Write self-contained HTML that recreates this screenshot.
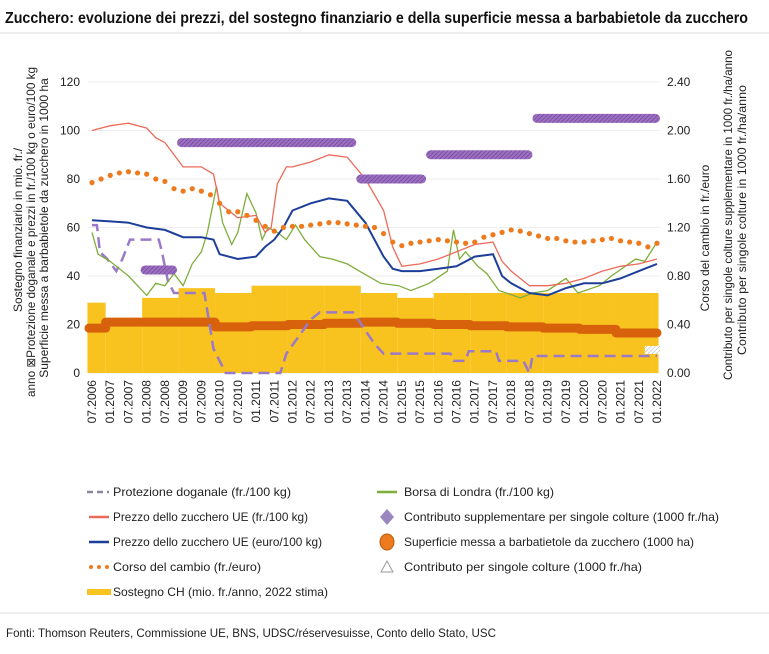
<!DOCTYPE html>
<html><head><meta charset="utf-8">
<style>
html,body{margin:0;padding:0;background:#fff;}
svg{display:block;font-family:"Liberation Sans Narrow","Liberation Sans",sans-serif;}
</style></head>
<body>
<svg id="chart" width="769" height="654" viewBox="0 0 769 654" xmlns="http://www.w3.org/2000/svg">
<defs>
<pattern id="hatchP" width="3" height="3" patternUnits="userSpaceOnUse" patternTransform="rotate(45)">
<rect width="3" height="3" fill="#9b6fc0"/><line x1="0" y1="0" x2="0" y2="3" stroke="#6d3f96" stroke-width="1.2"/>
</pattern>
<pattern id="hatchW" width="3" height="3" patternUnits="userSpaceOnUse" patternTransform="rotate(45)">
<rect width="3" height="3" fill="#fff"/><line x1="0" y1="0" x2="0" y2="3" stroke="#aaa" stroke-width="1"/>
</pattern>
</defs>
<rect x="0" y="0" width="769" height="654" fill="#fff"/>
<text x="5" y="23" font-size="16" font-weight="bold" fill="#111" textLength="743" lengthAdjust="spacingAndGlyphs">Zucchero: evoluzione dei prezzi, del sostegno finanziario e della superficie messa a barbabietole da zucchero</text>
<line x1="0" y1="33" x2="769" y2="33" stroke="#ddd" stroke-width="1"/>
<g id="grid"></g>
<g id="marks"></g>
<g id="axes"></g>
<g font-size="12" fill="#222">
<text transform="translate(22,230) rotate(-90)" text-anchor="middle">Sostegno finanziario in mio. fr./</text>
<text transform="translate(35,232) rotate(-90)" text-anchor="middle" textLength="330" lengthAdjust="spacingAndGlyphs">anno  ⊠Protezione doganale e prezzi in fr./100 kg o euro/100 kg</text>
<text transform="translate(48,228) rotate(-90)" text-anchor="middle">Superficie messa a barbabietole da zucchero in 1000 ha</text>
</g>
<g font-size="12" fill="#222">
<text transform="translate(709,238) rotate(-90)" text-anchor="middle">Corso del cambio in fr./euro</text>
<text transform="translate(732,215) rotate(-90)" text-anchor="middle" textLength="330" lengthAdjust="spacingAndGlyphs">Contributo per singole colture supplementare in 1000 fr./ha/anno</text>
<text transform="translate(746,220) rotate(-90)" text-anchor="middle" textLength="270" lengthAdjust="spacingAndGlyphs">Contributo per singole colture in 1000 fr./ha/anno</text>
</g>
<g id="legend" font-size="12" fill="#222"></g>
<line x1="0" y1="613" x2="769" y2="613" stroke="#ddd" stroke-width="1"/>
<text x="6" y="637" font-size="12" fill="#222" textLength="490" lengthAdjust="spacingAndGlyphs">Fonti: Thomson Reuters,  Commissione UE, BNS, UDSC/réservesuisse, Conto dello Stato, USC</text>
</svg>
<script>
// ---- data ----
const xLabels = ["07.2006","01.2007","07.2007","01.2008","07.2008","01.2009","07.2009","01.2010","07.2010","01.2011","07.2011","01.2012","07.2012","01.2013","07.2013","01.2014","07.2014","01.2015","07.2015","01.2016","07.2016","01.2017","07.2017","01.2018","07.2018","01.2019","07.2019","01.2020","07.2020","01.2021","07.2021","01.2022"];
const leftTicks = [0,20,40,60,80,100,120];
const rightTicks = ["0.00","0.40","0.80","1.20","1.60","2.00","2.40"];
// months since 07.2006
const redT = [0,6,12,18,21,24,30,36,40,42,48,54,57,59,61,64,66,72,78,84,90,96,99,102,108,114,120,126,132,135,138,144,150,156,162,168,174,180,186];
const redV = [100,102,103,101,97,95,85,85,82,70,64,65,58,60,78,85,85,87,90,89,80,67,52,44,45,47,50,53,54,46,42,36,36,37,39,42,44,45,47];
const blueT = [0,6,12,18,24,30,36,40,42,48,54,57,60,63,66,72,78,84,90,96,99,102,108,114,120,126,132,135,138,144,150,156,162,168,174,180,186];
const blueV = [63,62.5,62,60,59,56,56,55,49,47,48,52,55,60,67,70,72,71,62,48,43,42,42,43,44,48,49,40,37,33,32,35,37,37,39,42,45];
const greenT = [0,2,6,12,18,21,24,27,30,33,36,38,41,43,46,48,51,54,56,58,61,64,67,70,75,79,84,88,95,101,105,111,117,119,121,123,127,130,134,141,145,150,156,160,167,171,179,182,186];
const greenV = [58,49,46,40,32,37,36,41,36,45,50,58,77,62,53,58,74,66,55,60,58,55,61,55,48,47,45,42,37,36,34,37,42,59,47,50,44,41,34,31,33,34,39,33,36,40,47,46,54];
const fxT = [0,3,6,9,12,15,18,21,24,27,30,33,36,39,42,45,48,51,54,57,60,63,66,69,72,75,78,81,84,87,90,93,96,99,102,105,108,111,114,117,120,123,126,129,132,135,138,141,144,147,150,153,156,159,162,165,168,171,174,177,180,183,186];
const fxV = [1.57,1.60,1.63,1.65,1.66,1.65,1.64,1.60,1.58,1.52,1.50,1.52,1.50,1.47,1.40,1.33,1.33,1.30,1.26,1.21,1.17,1.20,1.21,1.21,1.22,1.23,1.24,1.24,1.23,1.22,1.21,1.20,1.15,1.08,1.05,1.07,1.08,1.09,1.10,1.09,1.08,1.07,1.08,1.12,1.14,1.16,1.18,1.17,1.15,1.13,1.11,1.11,1.09,1.08,1.08,1.09,1.10,1.11,1.09,1.08,1.07,1.04,1.07];
const protT = [0,1.6,2.6,5,8,10,12.5,22,23,25,27,37,40,44,62,64,68,72,75,86,93,96,118,119,123,124,133,134,142,144,145,186];
const protV = [61,61,50,47,42,47,55,55,50,38,33,33,10,0,0,8,15,22,25,25,12,8,8,5,5,9,9,5,5,0,7,7];
const years = [2006,2007,2008,2009,2010,2011,2012,2013,2014,2015,2016,2017,2018,2019,2020,2021,2022];
const supportV = [29,22,31,35,33,36,36,36,33,31,33,33,33,33,33,33,33];
const areaV = [18.5,21,21,21,19,19.5,20,20.5,21,20.5,20,19.5,19,18.5,18,16.5,16.5];
const suppStart = [16,28,87,110,145];
const suppEnd = [28,87,110,145,187];
const suppV = [0.85,1.90,1.60,1.80,2.10];
const singleStart = [182];
const singleEnd = [187];
const singleV = [0.19];

// ---- scales ----
const NS="http://www.w3.org/2000/svg";
const x = t => 92 + t*3.0376;
const yL = v => 373 - v*2.425;
const yR = r => 373 - r*121.25;
const yearStartT = yr => 6 + 12*(yr-2007) - 1.5;
function mk(tag, attrs, parent){const e=document.createElementNS(NS,tag);for(const k in attrs)e.setAttribute(k,attrs[k]);parent.appendChild(e);return e;}
const grid=document.getElementById('grid'), marks=document.getElementById('marks'), axes=document.getElementById('axes'), legend=document.getElementById('legend');

// grid + ticks
leftTicks.forEach((v,i)=>{
  const g=mk('line',{x1:88,x2:660,y1:yL(v),y2:yL(v),stroke:'#eeeeee','stroke-width':1},grid);
  
  
  const t=mk('text',{x:80,y:yL(v)+4,'text-anchor':'end','font-size':12,fill:'#222'},axes);
  t.textContent=v;
  
  
  const r=mk('text',{x:667,y:yR(i*0.4)+4,'font-size':12,fill:'#222'},axes);
  r.textContent=rightTicks[i];
  
  
});
xLabels.forEach((lab,i)=>{
  const t=mk('text',{transform:`translate(${x(i*6)+4},380) rotate(-90)`,'text-anchor':'end','font-size':12,fill:'#222'},axes);
  t.textContent=lab;
  
  
});

// support area (gold steps)
years.forEach((yr,i)=>{
  const t0=Math.max(yearStartT(yr),-1.5), t1=Math.min(yearStartT(yr+1),186.5);
  if(t1<=t0) return;
  const r=mk('rect',{x:x(t0),y:yL(supportV[i]),width:x(t1)-x(t0),height:yL(0)-yL(supportV[i]),fill:'#f9c31f'},marks);
  
  
});
// area (thick orange steps)
let ap='';
years.forEach((yr,i)=>{
  const t0=Math.max(yearStartT(yr),-1), t1=Math.min(yearStartT(yr+1),186);
  if(t1<=t0) return;
  ap+=(ap?'L':'M')+x(t0)+' '+yL(areaV[i])+' L'+x(t1)+' '+yL(areaV[i])+' ';
});
const areaPath=mk('path',{d:ap,fill:'none',stroke:'#d8620c','stroke-width':9,'stroke-linecap':'round','stroke-linejoin':'round'},marks);



function line(T,V,scale,attrs,name){
  const d=T.map((t,i)=>(i?'L':'M')+x(t).toFixed(1)+' '+scale(V[i]).toFixed(1)).join(' ');
  const p=mk('path',Object.assign({d:d,fill:'none'},attrs),marks);
  
  
}
line(protT,protV,yL,{stroke:'#9a7ac8','stroke-width':2.5,'stroke-dasharray':'11 6'},'customs-protection-line');
line(greenT,greenV,yL,{stroke:'#7fae3c','stroke-width':1.3},'london-exchange-line');
line(redT,redV,yL,{stroke:'#ec6a5a','stroke-width':1.3},'eu-price-chf-line');
line(blueT,blueV,yL,{stroke:'#1d3f99','stroke-width':2},'eu-price-eur-line');
fxT.forEach((t,i)=>{
  const c=mk('circle',{cx:x(t),cy:yR(fxV[i]),r:2.6,fill:'#ee7a1e'},marks);
  
  
});
suppV.forEach((v,i)=>{
  const r=mk('rect',{x:x(suppStart[i]),y:yR(v)-4.5,width:x(suppEnd[i])-x(suppStart[i]),height:9,rx:4.5,fill:'url(#hatchP)'},marks);
  
  
});
singleV.forEach((v,i)=>{
  const r=mk('rect',{x:x(singleStart[i]),y:yR(v)-4,width:x(singleEnd[i])-x(singleStart[i]),height:8,fill:'url(#hatchW)'},marks);
  
  
});

// legend
const L1=[["Protezione doganale (fr./100 kg)","dash"],["Prezzo dello zucchero UE (fr./100 kg)","red"],["Prezzo dello zucchero UE (euro/100 kg)","blue"],["Corso del cambio (fr./euro)","dots"],["Sostegno CH (mio. fr./anno, 2022 stima)","gold"]];
const L2=[["Borsa di Londra (fr./100 kg)","green"],["Contributo supplementare per singole colture (1000 fr./ha)","diamond"],["Superficie messa a barbatietole da zucchero (1000 ha)","circle"],["Contributo per singole colture (1000 fr./ha)","tri"]];
function sym(kind,cx,cy,g){
  if(kind==='dash'){mk('line',{x1:cx-12,x2:cx+10,y1:cy,y2:cy,stroke:'#8a86a0','stroke-width':2.5,'stroke-dasharray':'6 4'},g);}
  if(kind==='red')mk('line',{x1:cx-10,x2:cx+10,y1:cy,y2:cy,stroke:'#ec6a5a','stroke-width':2.5},g);
  if(kind==='blue')mk('line',{x1:cx-10,x2:cx+10,y1:cy,y2:cy,stroke:'#1d3f99','stroke-width':2.5},g);
  if(kind==='green')mk('line',{x1:cx-10,x2:cx+10,y1:cy,y2:cy,stroke:'#7fae3c','stroke-width':2.5},g);
  if(kind==='dots')[-8,0,8].forEach(d=>mk('circle',{cx:cx+d,cy:cy,r:2,fill:'#ee7a1e'},g));
  if(kind==='gold')mk('rect',{x:cx-12,y:cy-3,width:24,height:6,fill:'#f9c31f'},g);
  if(kind==='diamond')mk('path',{d:`M${cx} ${cy-8} L${cx+7} ${cy} L${cx} ${cy+8} L${cx-7} ${cy} Z`,fill:'#9b86c0'},g);
  if(kind==='circle')mk('ellipse',{cx:cx,cy:cy,rx:7,ry:8,fill:'#ee7a1e',stroke:'#b85a10','stroke-width':1},g);
  if(kind==='tri')mk('path',{d:`M${cx} ${cy-6} L${cx+6} ${cy+5} L${cx-6} ${cy+5} Z`,fill:'#fff',stroke:'#999','stroke-width':1},g);
}
function legItem(label,kind,sx,tx,y,tw){
  const g=mk('g',{},legend);
  
  
  sym(kind,sx,y-4,g);
  const t=mk('text',{x:tx,y:y,'font-size':12,fill:'#222',textLength:tw,lengthAdjust:'spacingAndGlyphs'},g);
  t.textContent=label;
}
const w1=[178,195,209,148,215];
const w2=[150,315,290,238];
L1.forEach((it,i)=>legItem(it[0],it[1],99,113,496+i*25,w1[i]));
L2.forEach((it,i)=>legItem(it[0],it[1],387,404,496+i*25,w2[i]));
</script>
</body></html>
